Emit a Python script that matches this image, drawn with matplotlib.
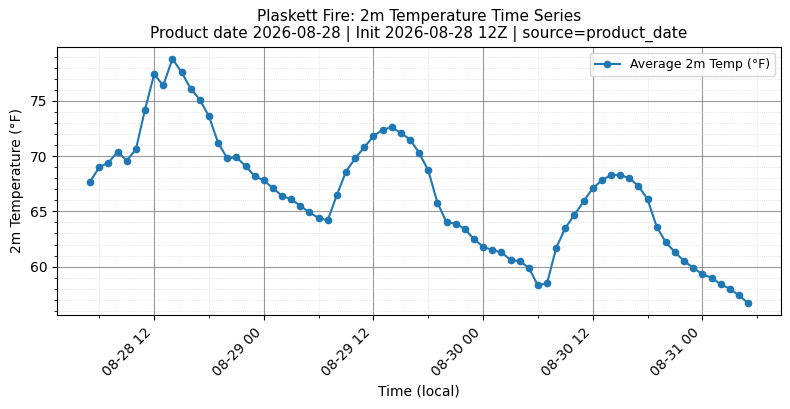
import matplotlib
matplotlib.use("Agg")
import matplotlib.pyplot as plt
import matplotlib.dates as mdates
from matplotlib.ticker import AutoMinorLocator
import pandas as pd

# hourly local times, 2026-08-28 05:00 .. 2026-08-31 05:00
start_time = "2026-08-28 05:00"
n_hours = 73
temps_f = [
    67.7, 69.0, 69.4, 70.4, 69.6, 70.6, 74.2, 77.4, 76.4, 78.8,
    77.6, 76.1, 75.1, 73.6, 71.2, 69.8, 69.9, 69.1, 68.2, 67.8,
    67.1, 66.4, 66.1, 65.5, 64.9, 64.4, 64.2, 66.5, 68.6, 69.8,
    70.8, 71.8, 72.4, 72.6, 72.1, 71.5, 70.3, 68.7, 65.8, 64.0,
    63.9, 63.4, 62.5, 61.8, 61.5, 61.3, 60.6, 60.5, 59.9, 58.3,
    58.5, 61.7, 63.5, 64.7, 65.9, 67.1, 67.8, 68.3, 68.3, 68.0,
    67.3, 66.1, 63.6, 62.2, 61.3, 60.5, 59.9, 59.3, 59.0, 58.4,
    58.0, 57.4, 56.7,
]
times = pd.date_range(start_time, periods=n_hours, freq="h")

fig, ax = plt.subplots(figsize=(7.9, 4.09), dpi=100)
ax.plot(times, temps_f, marker="o", markersize=4.5, linewidth=1.5,
        color="#1f77b4", label="Average 2m Temp (°F)")

ax.set_title("Plaskett Fire: 2m Temperature Time Series\n"
             "Product date 2026-08-28 | Init 2026-08-28 12Z | source=product_date",
             fontsize=11)
ax.set_xlabel("Time (local)")
ax.set_ylabel("2m Temperature (°F)")

ax.xaxis.set_major_locator(mdates.HourLocator(byhour=[0, 12]))
ax.xaxis.set_minor_locator(mdates.HourLocator(byhour=[6, 18]))
ax.xaxis.set_major_formatter(mdates.DateFormatter("%m-%d %H"))
ax.yaxis.set_minor_locator(AutoMinorLocator())

ax.grid(which="major", color="gray", linewidth=0.8, alpha=0.8)
ax.grid(which="minor", color="lightgray", linestyle=":", linewidth=0.6, alpha=0.8)

plt.setp(ax.get_xticklabels(), rotation=45, ha="right")
ax.legend(loc="upper right", fontsize=9)

fig.subplots_adjust(left=0.0725, right=0.9886, top=0.886, bottom=0.229)
fig.savefig("out.png", dpi=100)
